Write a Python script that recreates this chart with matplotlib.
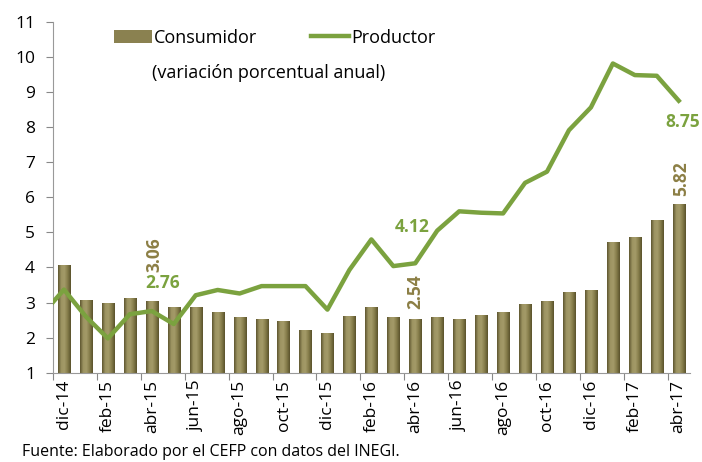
import matplotlib.pyplot as plt
import numpy as np
from matplotlib.colors import LinearSegmentedColormap

plt.rcParams['font.family'] = ['Open Sans', 'DejaVu Sans']

# Monthly categories dic-14 .. abr-17
meses = ['dic-14', 'ene-15', 'feb-15', 'mar-15', 'abr-15', 'may-15', 'jun-15', 'jul-15',
         'ago-15', 'sep-15', 'oct-15', 'nov-15', 'dic-15', 'ene-16', 'feb-16', 'mar-16',
         'abr-16', 'may-16', 'jun-16', 'jul-16', 'ago-16', 'sep-16', 'oct-16', 'nov-16',
         'dic-16', 'ene-17', 'feb-17', 'mar-17', 'abr-17']

consumidor = [4.08, 3.07, 3.00, 3.14, 3.06, 2.88, 2.87, 2.74, 2.59, 2.52, 2.48, 2.21,
              2.13, 2.61, 2.87, 2.60, 2.54, 2.60, 2.54, 2.65, 2.73, 2.97, 3.06, 3.31,
              3.36, 4.72, 4.86, 5.35, 5.82]

productor = [3.37, 2.60, 1.98, 2.67, 2.76, 2.39, 3.21, 3.36, 3.26, 3.47, 3.47, 3.47,
             2.80, 3.93, 4.80, 4.04, 4.12, 5.05, 5.60, 5.56, 5.54, 6.41, 6.73, 7.91,
             8.56, 9.81, 9.48, 9.46, 8.75]
# previous month (nov-14), only visible as the lead-in segment at the left edge
productor_prev = 2.66

bar_color = '#8a8150'
line_color = '#7ba23f'
label_olive = '#8c7f45'

x = np.arange(len(meses))

fig = plt.figure(figsize=(7.02, 4.62), dpi=100)
ax = fig.add_axes([0.0755, 0.193, 0.907, 0.760])

bars = ax.bar(x, [v - 1 for v in consumidor], bottom=1, width=0.55, color=bar_color,
              edgecolor='none', label='Consumidor', zorder=2)

# cylinder-like shading on each bar
cmap = LinearSegmentedColormap.from_list('olive', ['#5e5630', '#9d9462', '#a39a68', '#857c4a', '#5a522c'])
grad = np.linspace(0, 1, 64).reshape(1, -1)
for b in bars:
    x0, y0 = b.get_x(), b.get_y()
    im = ax.imshow(grad, cmap=cmap, aspect='auto', zorder=2.1,
                   extent=(x0, x0 + b.get_width(), y0, y0 + b.get_height()))
    im.set_clip_path(b)

ax.plot(np.r_[-1, x], np.r_[productor_prev, productor], color=line_color, lw=3.2,
        label='Productor', zorder=3)

ax.set_xlim(-0.5, len(meses) - 0.5)
ax.set_ylim(1, 11)
ax.set_yticks(range(1, 12))
ax.tick_params(axis='y', labelsize=12.5, length=5, color='#888888', pad=8)

ax.set_xticks(np.arange(-0.5, len(meses), 2))
ax.set_xticklabels([])
ax.set_xticks(x[::2], minor=True)
ax.set_xticklabels(meses[::2], minor=True, rotation=90, fontsize=12.5)
ax.tick_params(axis='x', which='major', length=5, color='#888888')
ax.tick_params(axis='x', which='minor', length=0, pad=5)

for side in ['top', 'right']:
    ax.spines[side].set_visible(False)
for side in ['left', 'bottom']:
    ax.spines[side].set_color('#999999')

# data labels
lab = dict(ha='center', va='center', fontsize=12.5, fontweight='bold',
           textcoords='offset pixels', annotation_clip=False)
ax.annotate('2.76', (4, productor[4]), xytext=(11, 28), color=line_color, **lab)
ax.annotate('4.12', (16, productor[16]), xytext=(-3, 36), color=line_color, **lab)
ax.annotate('8.75', (28, productor[28]), xytext=(4, -21), color=line_color, **lab)
ax.annotate('3.06', (4, consumidor[4]), xytext=(3, 46), color=label_olive, rotation=90, **lab)
ax.annotate('2.54', (16, consumidor[16]), xytext=(0, 27), color=label_olive, rotation=90, **lab)
ax.annotate('5.82', (28, consumidor[28]), xytext=(2, 25), color=label_olive, rotation=90, **lab)

handles, labels = ax.get_legend_handles_labels()
order = [labels.index('Consumidor'), labels.index('Productor')]
ax.legend([handles[i] for i in order], [labels[i] for i in order],
          loc='center left', bbox_to_anchor=(0.085, 0.955), ncol=2, frameon=False,
          fontsize=13, handlelength=2.1, handletextpad=0.1, columnspacing=3.0,
          borderaxespad=0)
ax.text(0.155, 0.855, '(variación porcentual anual)', transform=ax.transAxes,
        fontsize=13, ha='left', va='center')

fig.text(0.031, 0.012, 'Fuente: Elaborado por el CEFP con datos del INEGI.', fontsize=11.5)

fig.savefig('out.png', dpi=100)
